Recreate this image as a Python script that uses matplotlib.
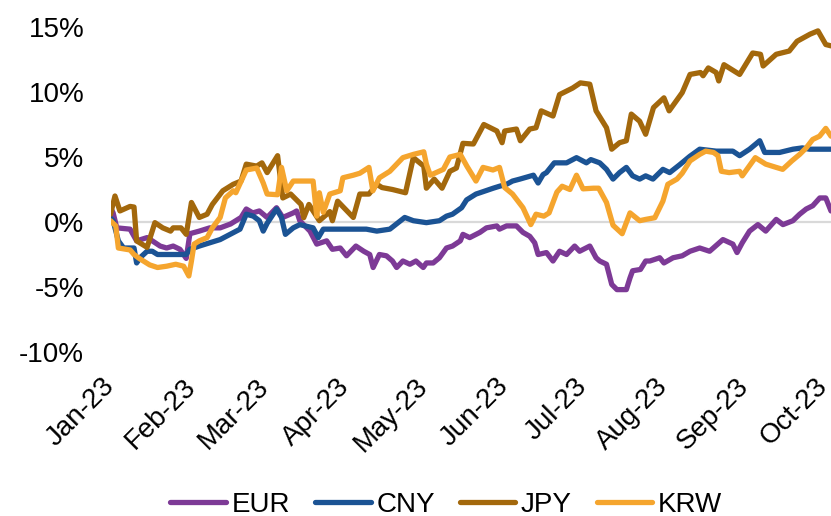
import matplotlib
matplotlib.use("Agg")
import matplotlib.pyplot as plt
import matplotlib.dates as mdates
import pandas as pd

plt.rcParams['font.family'] = ['Liberation Sans', 'DejaVu Sans']

start = pd.Timestamp('2023-01-01')

# days since 1 Jan 2023, and % change, per currency
eur_days = [0, 1, 2.4, 7.5, 10, 14, 16, 19, 21.5, 24, 26.6, 29, 30.4, 34, 38, 42, 46, 50, 52,
            54.5, 57, 60, 63.6, 66, 70, 71.3, 72.5, 76.4, 79, 82.8, 85, 88, 90.4, 94, 97,
            99.3, 100.6, 103, 105.7, 108, 109.6, 112, 114.7, 117, 119.8, 121, 123.6, 126,
            128.7, 131, 134, 135, 137.6, 141.5, 144, 148, 149, 151.7, 155.5, 158, 160.6,
            162.5, 163.8, 167, 169.5, 172, 174.7, 177.8, 179.7, 183.6, 186, 187.4, 190, 192,
            194, 197.6, 199, 200, 203, 205, 206.6, 210.4, 212, 215.5, 219, 222, 225.7, 229.5,
            234.6, 238.4, 240, 242, 244.8, 248, 251, 255, 257.6, 261.4, 264, 266.5, 269,
            271.7, 274, 276]
eur = [1.1, 0.7, -0.45, -0.55, -1.45, -1.2, -1.45, -1.85, -2.0, -1.85, -2.1, -2.8, -0.9, -0.7,
       -0.45, -0.45, -0.15, 0.35, 1.0, 0.7, 0.85, 0.35, 1.1, 0.35, 0.7, 0.85, 0.1, -0.7, -1.7,
       -1.45, -2.1, -2.0, -2.6, -1.85, -2.25, -2.5, -3.5, -2.5, -2.6, -3.0, -3.5, -3.0, -3.25,
       -3.0, -3.5, -3.15, -3.15, -2.75, -2.0, -1.85, -1.45, -0.95, -1.2, -0.8, -0.45, -0.3,
       -0.55, -0.3, -0.3, -0.8, -1.1, -1.6, -2.5, -2.35, -3.0, -2.25, -2.5, -1.85, -2.25,
       -1.85, -2.75, -3.0, -3.25, -4.8, -5.2, -5.2, -4.3, -3.75, -3.65, -3.0, -3.0, -2.75,
       -3.15, -2.75, -2.6, -2.25, -2.0, -2.25, -1.35, -1.7, -2.35, -1.6, -0.7, -0.2, -0.7,
       0.2, -0.2, 0.1, 0.6, 1.0, 1.25, 1.85, 1.85, 0.85]

cny_days = [0, 1, 3, 5, 9, 10, 11.3, 14, 16, 18, 21.5, 26.6, 29, 30.4, 34, 38, 42, 45.8, 49.6,
            52, 54.7, 57, 58.5, 60, 63.6, 65.5, 67, 70, 72.5, 77.6, 79.6, 81.5, 90.4, 98, 102,
            107, 112.7, 116, 121, 126, 128.7, 131, 134.5, 136.4, 140, 141.5, 146.6, 149,
            151.7, 154, 156.8, 162, 163.8, 165.7, 167, 170, 174.7, 178.5, 182.3, 184, 187.4,
            190, 192.5, 195, 197.6, 200, 202.7, 205, 207.8, 211.6, 214.2, 218, 221.9, 225.7,
            232, 238.4, 241, 244.8, 248.7, 250.6, 256.3, 261.4, 265, 267.8, 276]
cny = [0.3, 0.1, -1.45, -2.0, -2.0, -3.15, -2.75, -2.25, -2.25, -2.5, -2.5, -2.5, -2.5, -2.1,
       -1.85, -1.6, -1.35, -0.95, -0.55, 0.6, 0.45, 0.1, -0.7, -0.1, 1.0, 0.35, -0.95, -0.45,
       -0.2, -0.45, -1.2, -0.55, -0.55, -0.55, -0.7, -0.55, 0.35, 0.1, -0.05, 0.1, 0.45, 0.6,
       1.1, 1.7, 2.15, 2.25, 2.6, 2.75, 2.9, 3.15, 3.3, 3.6, 3.0, 3.65, 3.8, 4.55, 4.55, 4.95,
       4.55, 4.8, 4.55, 4.05, 3.3, 3.8, 4.2, 3.55, 3.3, 3.55, 3.3, 4.05, 3.8, 4.4, 5.05, 5.6,
       5.45, 5.45, 5.1, 5.6, 6.25, 5.35, 5.35, 5.6, 5.7, 5.6, 5.6]

jpy_days = [0, 1.7, 3.6, 7.5, 9, 10, 14, 17, 20, 23, 24, 27, 29, 31, 34, 37, 39, 43, 47, 50,
            52, 56, 58, 60, 64, 66, 69, 73, 74, 76, 80, 84, 85, 87, 93, 95.5, 99, 102, 104,
            108, 113, 116, 120, 121, 124, 127, 130, 132.5, 135, 139, 143, 148, 150, 151,
            155.5, 157, 160.6, 163, 165, 169.5, 172, 177, 180, 183.6, 186, 190, 192, 195,
            197.6, 199.5, 202.7, 205, 208, 212, 214, 219, 222, 226, 227, 229, 232, 233, 235,
            241, 246, 249, 250, 255, 260, 263, 268, 271, 274, 276]
jpy = [0.6, 2.0, 0.85, 1.2, 1.15, -1.45, -1.95, -0.05, -0.45, -0.7, -0.45, -0.45, -0.95, 1.5,
       0.35, 0.6, 1.35, 2.4, 2.9, 3.15, 4.45, 4.3, 4.55, 3.8, 5.1, 1.85, 2.15, 1.35, 0.33,
       1.35, 0.1, 0.8, 0.1, 1.6, 0.35, 2.15, 2.15, 2.9, 2.65, 2.5, 2.25, 4.95, 4.3, 2.6, 3.3,
       2.6, 3.9, 4.15, 6.05, 6.0, 7.5, 7.0, 6.1, 7.0, 7.15, 6.25, 7.15, 7.25, 8.55, 8.15, 9.8,
       10.3, 10.7, 10.6, 8.55, 7.25, 5.6, 6.1, 6.25, 8.3, 7.75, 6.75, 8.8, 9.55, 8.55, 9.95,
       11.35, 11.5, 11.25, 11.85, 11.5, 10.85, 12.1, 11.35, 13.0, 12.9, 12.0, 12.9, 13.15,
       13.9, 14.45, 14.7, 13.65, 13.55]

krw_days = [0, 2, 3, 7.5, 9, 11, 15, 18, 21.5, 25, 28, 30, 31, 32, 34, 37, 39, 42, 44, 47, 48,
            52, 56, 58.5, 60, 64, 65.5, 67.5, 70, 72.5, 77.6, 79, 80, 81.5, 84, 88, 89, 93,
            95.5, 99, 100.5, 103, 107, 112, 116, 120, 121, 122.5, 127.5, 130, 134, 136.5, 140,
            142.7, 146.5, 149, 151, 154, 158, 161, 163, 166, 168, 171, 173, 176, 178.5, 181,
            185, 187, 190, 192.5, 196, 199, 202.7, 205, 208.5, 211.6, 213.5, 217, 219, 222,
            225.7, 228, 231, 232.7, 234, 237, 241, 242, 247, 251, 255, 257.5, 261, 264, 266.5,
            269, 271.6, 274, 276]
krw = [0.1, -0.3, -2.0, -2.15, -2.5, -2.8, -3.3, -3.5, -3.4, -3.25, -3.4, -4.15, -3.0, -1.7,
       -1.45, -1.2, -0.45, 0.35, 1.85, 2.4, 2.25, 4.0, 4.15, 3.0, 2.15, 2.1, 4.2, 2.4, 3.15,
       3.15, 3.15, 0.45, 2.25, 0.75, 2.15, 2.4, 3.4, 3.6, 3.75, 4.2, 2.4, 3.4, 3.9, 4.95, 5.2,
       5.4, 4.45, 3.6, 4.05, 5.0, 5.2, 4.3, 3.15, 4.2, 4.0, 4.2, 2.65, 2.15, 1.1, -0.2, 0.6,
       0.45, 0.7, 2.3, 2.75, 2.5, 3.6, 2.55, 2.6, 2.6, 1.5, -0.25, -0.9, 0.7, 0.1, 0.2, 0.33,
       1.6, 2.9, 3.3, 3.75, 4.7, 5.2, 5.45, 5.35, 5.1, 3.9, 3.8, 3.9, 3.55, 4.95, 4.45, 4.2,
       4.05, 4.7, 5.2, 5.7, 6.35, 6.6, 7.2, 6.6]

series_names = ['EUR', 'CNY', 'JPY', 'KRW']
series_days = [eur_days, cny_days, jpy_days, krw_days]
series_values = [eur, cny, jpy, krw]
colors = ['#7D3A96', '#1B5394', '#A3680C', '#F5A52E']

y_ticks = [-10, -5, 0, 5, 10, 15]
y_tick_labels = ['-10%', '-5%', '0%', '5%', '10%', '15%']

fig = plt.figure(figsize=(8.31, 5.16), dpi=100)
ax = fig.add_axes([0.133, 0.3178, 0.867, 0.6299])

ax.axhline(0, color='#d9d9d9', lw=1.6, zorder=1)
for name, days, vals, c in zip(series_names, series_days, series_values, colors):
    dts = start + pd.to_timedelta(days, unit='D')
    ax.plot(dts, vals, color=c, lw=3.8, label=name, zorder=2,
            solid_joinstyle='round', solid_capstyle='round')

ax.set_xlim(start, pd.Timestamp('2023-10-04'))
ax.set_ylim(-10, 15)
ax.set_yticks(y_ticks)
ax.set_yticklabels(y_tick_labels)

ax.xaxis.set_major_locator(mdates.MonthLocator())
ax.xaxis.set_major_formatter(mdates.DateFormatter('%b-%y'))

for s in ax.spines.values():
    s.set_visible(False)
ax.tick_params(axis='both', length=0, labelsize=20, colors='black')
ax.tick_params(axis='y', pad=19)
ax.tick_params(axis='x', pad=22)
for lbl in ax.get_xticklabels():
    lbl.set_rotation(45)
    lbl.set_ha('right')
    lbl.set_va('center')
    lbl.set_rotation_mode('anchor')

handles, labels = ax.get_legend_handles_labels()
fig.legend(handles, labels, loc='center', bbox_to_anchor=(0.537, 0.022),
           ncol=4, frameon=False, fontsize=20, handlelength=2.0,
           handletextpad=0.2, columnspacing=0.9, borderpad=0)

fig.savefig('out.png', dpi=100)
